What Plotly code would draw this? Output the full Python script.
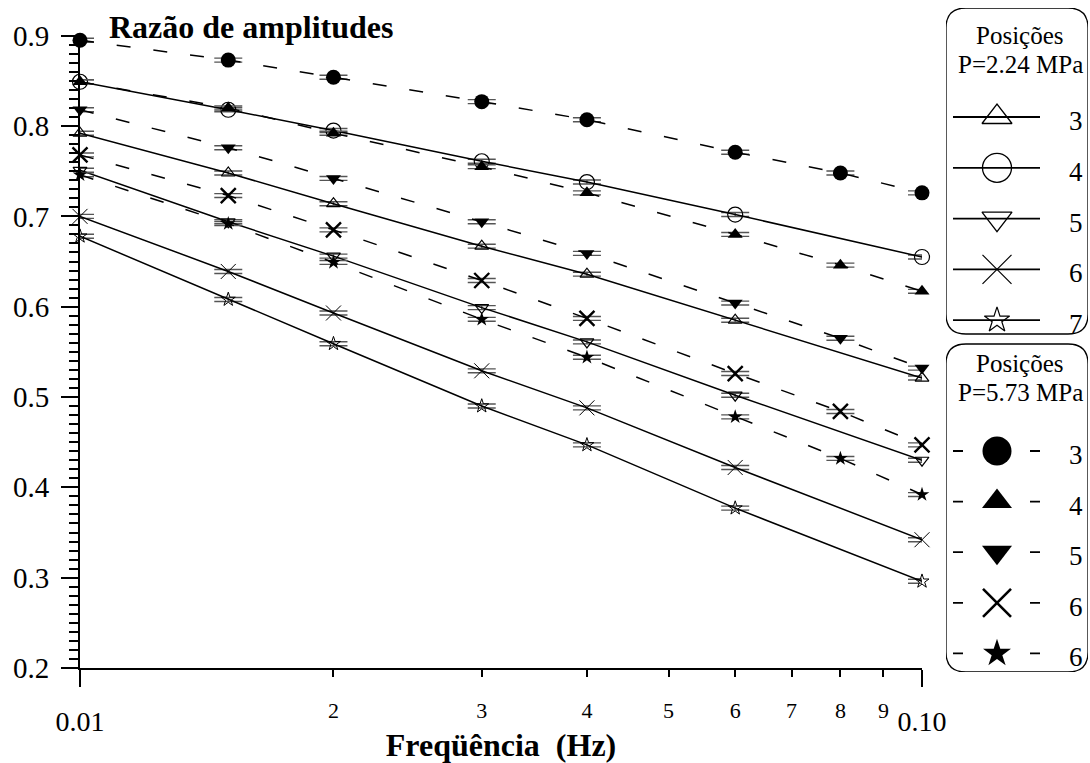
import plotly.graph_objects as go

# ---------------- data ----------------
freq_224 = [0.01, 0.015, 0.02, 0.03, 0.04, 0.06, 0.10]
freq_573 = [0.01, 0.015, 0.02, 0.03, 0.04, 0.06, 0.08, 0.10]

# P = 2.24 MPa (open symbols, solid lines)
p224_pos3 = [0.792, 0.748, 0.714, 0.667, 0.636, 0.585, 0.521]
p224_pos4 = [0.849, 0.818, 0.795, 0.761, 0.738, 0.702, 0.655]
p224_pos5 = [0.751, 0.694, 0.656, 0.599, 0.561, 0.502, 0.430]
p224_pos6 = [0.700, 0.639, 0.593, 0.529, 0.488, 0.422, 0.342]
p224_pos7 = [0.678, 0.608, 0.559, 0.490, 0.447, 0.377, 0.296]

# P = 5.73 MPa (filled symbols, dashed lines)
p573_pos3 = [0.895, 0.873, 0.854, 0.827, 0.807, 0.771, 0.748, 0.726]
p573_pos4 = [0.849, 0.820, 0.792, 0.755, 0.726, 0.680, 0.646, 0.617]
p573_pos5 = [0.818, 0.776, 0.742, 0.694, 0.659, 0.604, 0.565, 0.532]
p573_pos6 = [0.768, 0.723, 0.685, 0.629, 0.587, 0.526, 0.484, 0.447]
p573_pos7 = [0.746, 0.692, 0.649, 0.586, 0.544, 0.478, 0.432, 0.392]

err_half = 0.0022

legend1_labels = ["3", "4", "5", "6", "7"]
legend2_labels = ["3", "4", "5", "6", "6"]
legend1_title = ["Posições", "P=2.24 MPa"]
legend2_title = ["Posições", "P=5.73 MPa"]

x_major_vals = [0.01, 0.1]
x_major_text = ["0.01", "0.10"]
x_minor_vals = [0.02, 0.03, 0.04, 0.05, 0.06, 0.07, 0.08, 0.09]
x_minor_text = ["2", "3", "4", "5", "6", "7", "8", "9"]
y_vals = [0.2, 0.3, 0.4, 0.5, 0.6, 0.7, 0.8, 0.9]
y_text = ["0.2", "0.3", "0.4", "0.5", "0.6", "0.7", "0.8", "0.9"]

# ---------------- styles ----------------
FONT = "Liberation Serif, Times New Roman, serif"
W, H = 1090, 763
PX_L, PX_R, PX_T, PX_B = 80, 922, 35.7, 668
X_RANGE = [-2.000001, -0.999999]

open_styles = [
    dict(symbol="triangle-up-open", size=12, lw=1.2, lsize=26, llw=1.3),
    dict(symbol="circle-open", size=15, lw=1.2, lsize=29, llw=1.3),
    dict(symbol="triangle-down-open", size=12, lw=1.2, lsize=26, llw=1.3),
    dict(symbol="x-thin-open", size=15, lw=1.0, lsize=29, llw=1.2),
    dict(symbol="star-open", size=10.5, lw=1.0, lsize=19, llw=1.2),
]
filled_styles = [
    dict(symbol="circle", size=15, lw=0, lsize=29, llw=0),
    dict(symbol="triangle-up", size=13, lw=0, lsize=26, llw=0),
    dict(symbol="triangle-down", size=13, lw=0, lsize=26, llw=0),
    dict(symbol="x-thin-open", size=15, lw=2.4, lsize=28, llw=2.6),
    dict(symbol="star", size=11, lw=0, lsize=21, llw=0),
]

fig = go.Figure()

open_series = [p224_pos3, p224_pos4, p224_pos5, p224_pos6, p224_pos7]
filled_series = [p573_pos3, p573_pos4, p573_pos5, p573_pos6, p573_pos7]

def add_series(xs, ys, st, dash, name):
    fig.add_trace(go.Scatter(
        x=xs, y=ys, mode="lines+markers", name=name, showlegend=False,
        line=dict(color="black", width=1.5, dash=dash),
        marker=dict(symbol=st["symbol"], size=st["size"], color="black",
                    line=dict(color="black", width=st["lw"])),
        error_y=dict(type="constant", value=err_half, symmetric=True,
                     width=14, thickness=1.4, color="#555555"),
        cliponaxis=False, hoverinfo="x+y+name",
    ))

for ys, st, lab in zip(open_series, open_styles, legend1_labels):
    add_series(freq_224, ys, st, "solid", "P=2.24 MPa, posição " + lab)
for ys, st, lab in zip(filled_series, filled_styles, legend2_labels):
    add_series(freq_573, ys, st, "14px,23px", "P=5.73 MPa, posição " + lab)

# dummy trace to carry the minor-label x axis
fig.add_trace(go.Scatter(x=[0.01], y=[None], xaxis="x2", yaxis="y",
                         showlegend=False, hoverinfo="skip"))

# ---------------- custom legends (own axes, pixel units) ----------------
LEG_X0, LEG_X1 = 946, 1088
LEG_Y0, LEG_Y1 = 8, 672
box1 = (LEG_X0, 8, LEG_X1, 334)
box2 = (LEG_X0, 344, LEG_X1, 672)
rows1_start, rows1_step = 117, 50.8
rows2_start, rows2_step = 451, 50.6
line_x0, line_x1, sym_x, lab_x, title_x = 953, 1040, 997, 1076, 1020

def rounded(x0, y0, x1, y1, r):
    return (f"M{x0+r},{y0} L{x1-r},{y0} Q{x1},{y0} {x1},{y0+r} "
            f"L{x1},{y1-r} Q{x1},{y1} {x1-r},{y1} L{x0+r},{y1} "
            f"Q{x0},{y1} {x0},{y1-r} L{x0},{y0+r} Q{x0},{y0} {x0+r},{y0} Z")

shapes = []
for b in (box1, box2):
    shapes.append(dict(type="path", xref="x3", yref="y3",
                       path=rounded(*b, 20), line=dict(color="black", width=1.3)))

annotations = []
for i, (st, lab) in enumerate(zip(open_styles, legend1_labels)):
    ry = rows1_start + i * rows1_step
    fig.add_trace(go.Scatter(x=[line_x0, line_x1], y=[ry, ry], mode="lines",
                             line=dict(color="black", width=1.8),
                             xaxis="x3", yaxis="y3", showlegend=False, hoverinfo="skip"))
    fig.add_trace(go.Scatter(x=[sym_x], y=[ry], mode="markers",
                             marker=dict(symbol=st["symbol"], size=st["lsize"], color="black",
                                         line=dict(color="black", width=st["llw"])),
                             xaxis="x3", yaxis="y3", showlegend=False, hoverinfo="skip",
                             cliponaxis=False))
    annotations.append(dict(x=lab_x, y=ry + 4, xref="x3", yref="y3", text=lab,
                            showarrow=False, font=dict(family=FONT, size=27, color="black")))
for i, (st, lab) in enumerate(zip(filled_styles, legend2_labels)):
    ry = rows2_start + i * rows2_step
    fig.add_trace(go.Scatter(x=[line_x0, line_x1], y=[ry, ry], mode="lines",
                             line=dict(color="black", width=1.8, dash="10px,67px"),
                             xaxis="x3", yaxis="y3", showlegend=False, hoverinfo="skip"))
    fig.add_trace(go.Scatter(x=[sym_x], y=[ry], mode="markers",
                             marker=dict(symbol=st["symbol"], size=st["lsize"], color="black",
                                         line=dict(color="black", width=st["llw"])),
                             xaxis="x3", yaxis="y3", showlegend=False, hoverinfo="skip",
                             cliponaxis=False))
    annotations.append(dict(x=lab_x, y=ry + 4, xref="x3", yref="y3", text=lab,
                            showarrow=False, font=dict(family=FONT, size=27, color="black")))

for txt, yy in zip(legend1_title, (36, 65)):
    annotations.append(dict(x=title_x, y=yy, xref="x3", yref="y3", text=txt,
                            showarrow=False, font=dict(family=FONT, size=25, color="black")))
for txt, yy in zip(legend2_title, (363, 392)):
    annotations.append(dict(x=title_x, y=yy, xref="x3", yref="y3", text=txt,
                            showarrow=False, font=dict(family=FONT, size=25, color="black")))

# chart title
annotations.append(dict(x=107 / W, y=1 - 27 / H, xref="paper", yref="paper",
                        xanchor="left", yanchor="middle", showarrow=False,
                        text="<b>Razão de amplitudes</b>",
                        font=dict(family=FONT, size=32, color="black")))

xdom = [PX_L / W, PX_R / W]
ydom = [(H - PX_B) / H, (H - PX_T) / H]

fig.update_layout(
    width=W, height=H,
    margin=dict(l=0, r=0, t=0, b=0),
    paper_bgcolor="white", plot_bgcolor="white",
    showlegend=False,
    font=dict(family=FONT, color="black"),
    xaxis=dict(type="log", range=X_RANGE, domain=xdom, anchor="y",
               tickmode="array", tickvals=x_major_vals, ticktext=x_major_text,
               ticks="outside", ticklen=17, tickwidth=2, tickcolor="black",
               showline=True, linewidth=2, linecolor="black",
               showgrid=False, zeroline=False, automargin=False,
               tickfont=dict(family=FONT, size=28, color="black"),
               ticklabelstandoff=10,
               title=dict(text="<b>Freqüência\u00a0 (Hz)</b>", standoff=11,
                          font=dict(family=FONT, size=32, color="black"))),
    xaxis2=dict(type="log", range=X_RANGE, domain=xdom, anchor="y",
                overlaying="x", side="bottom",
                tickmode="array", tickvals=x_minor_vals, ticktext=x_minor_text,
                ticks="outside", ticklen=8, tickwidth=2, tickcolor="black",
                showline=False, showgrid=False, zeroline=False, automargin=False,
                tickfont=dict(family=FONT, size=22, color="black"),
                ticklabelstandoff=15),
    yaxis=dict(range=[0.2, 0.9], domain=ydom, anchor="x",
               tickmode="array", tickvals=y_vals, ticktext=y_text,
               ticks="outside", ticklen=17, tickwidth=2, tickcolor="black",
               minor=dict(tickmode="linear", tick0=0.2, dtick=0.01, ticks="outside",
                          ticklen=9, tickwidth=1.6, tickcolor="black", showgrid=False),
               showline=True, linewidth=2, linecolor="black",
               showgrid=False, zeroline=False, automargin=False,
               tickfont=dict(family=FONT, size=29, color="black"),
               ticklabelstandoff=6),
    xaxis3=dict(domain=[LEG_X0 / W, LEG_X1 / W], range=[LEG_X0, LEG_X1], anchor="y3",
                visible=False, fixedrange=True),
    yaxis3=dict(domain=[(H - LEG_Y1) / H, (H - LEG_Y0) / H], range=[LEG_Y1, LEG_Y0],
                anchor="x3", visible=False, fixedrange=True),
    shapes=shapes,
    annotations=annotations,
)

fig.write_html("out.html", config={"displayModeBar": False},
               post_script="document.body.style.margin='0px';")
